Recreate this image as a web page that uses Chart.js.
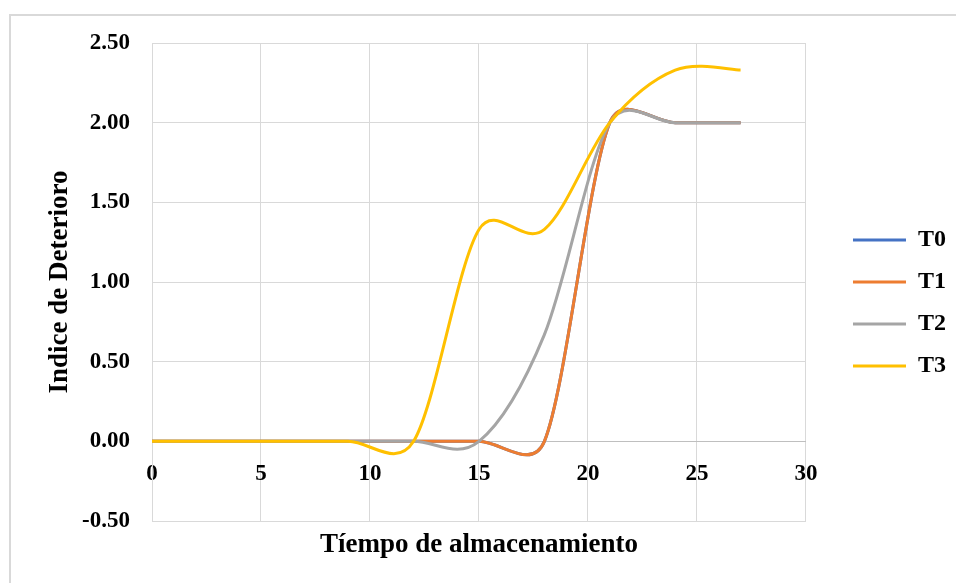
<!DOCTYPE html>
<html>
<head>
<meta charset="utf-8">
<script src="https://cdn.jsdelivr.net/npm/chart.js@4"></script>
<style>
  body { margin: 0; background: #fff; overflow: hidden; }
  #frame { position: absolute; left: 9px; top: 14px; width: 1000px; height: 650px; border: 2px solid #d9d9d9; box-sizing: border-box; }
  #chart { position: absolute; left: 0; top: 0; }
</style>
</head>
<body>
<div id="frame"></div>
<canvas id="chart" width="956" height="583"></canvas>
<script>
// dias de almacenamiento
const dias = [0, 3, 6, 9, 12, 15, 18, 21, 24, 27]

// indice de deterioro por tratamiento
const t0 = [0, 0, 0, 0, 0, 0, 0, 2.0, 2.0, 2.0]
const t1 = [0, 0, 0, 0, 0, 0, 0, 2.0, 2.0, 2.0]
const t2 = [0, 0, 0, 0, 0, 0, 0.67, 2.0, 2.0, 2.0]
const t3 = [0, 0, 0, 0, 0, 1.33, 1.33, 2.0, 2.33, 2.33]

const nombres = ['T0', 'T1', 'T2', 'T3']
const colores = ['#4472C4', '#ED7D31', '#A5A5A5', '#FFC000']
const series = [t0, t1, t2, t3]

const xTicks = [0, 5, 10, 15, 20, 25, 30]
const yTicks = [-0.5, 0, 0.5, 1.0, 1.5, 2.0, 2.5]

const fuente = '"Times New Roman", "Liberation Serif", serif'

// curva suavizada al estilo de Excel (brazos de control limitados a media distancia)
const dist = (a, b) => Math.hypot(b.x - a.x, b.y - a.y)
const suavizado = {
    id: 'suavizado',
    beforeDatasetsDraw(chart) {
        chart.data.datasets.forEach((ds, i) => {
            const meta = chart.getDatasetMeta(i)
            const line = meta.dataset
            if (!line) return
            line.updateControlPoints(chart.chartArea, meta.indexAxis)
            const pts = meta.data
            for (let k = 0; k < pts.length - 1; k++) {
                const p0 = pts[Math.max(k - 1, 0)]
                const p1 = pts[k]
                const p2 = pts[k + 1]
                const p3 = pts[Math.min(k + 2, pts.length - 1)]
                const d12 = dist(p1, p2), d02 = dist(p0, p2), d13 = dist(p1, p3)
                let f = 1 / 6, g = 1 / 6
                if (d02 / 6 >= d12 / 2) f = d12 / 2 / d02
                if (d13 / 6 >= d12 / 2) g = d12 / 2 / d13
                p1.cp2x = p1.x + f * (p2.x - p0.x)
                p1.cp2y = p1.y + f * (p2.y - p0.y)
                p2.cp1x = p2.x - g * (p3.x - p1.x)
                p2.cp1y = p2.y - g * (p3.y - p1.y)
            }
            line._path = undefined
        })
    }
}

const datasets = series.map((valores, i) => ({
    label: nombres[i],
    data: dias.map((d, j) => ({ x: d, y: valores[j] })),
    showLine: true,
    borderColor: colores[i],
    backgroundColor: colores[i],
    borderWidth: 3,
    pointRadius: 0,
    tension: 0.5,
    order: series.length - i
}))

// ejes vacios que solo reservan espacio
const espacio = (eje, pos, medida, tam) => ({
    axis: eje,
    type: 'linear',
    position: pos,
    display: true,
    min: 0,
    max: 1,
    ticks: { display: false },
    grid: { display: false },
    border: { display: false },
    afterFit: (axis) => { axis[medida] = tam }
})

new Chart(document.getElementById('chart').getContext('2d'), {
    type: 'scatter',
    data: { datasets: datasets },
    plugins: [suavizado],
    options: {
        responsive: false,
        animation: false,
        layout: {
            padding: { left: 44, right: 0, top: 23, bottom: 0 }
        },
        scales: {
            x: {
                type: 'linear',
                position: { y: 0 },
                min: xTicks[0],
                max: xTicks[xTicks.length - 1],
                afterBuildTicks: (axis) => { axis.ticks = xTicks.map(v => ({ value: v })) },
                ticks: {
                    padding: 19,
                    color: '#000',
                    font: { family: fuente, size: 23, weight: 'bold' }
                },
                grid: { color: '#d9d9d9', drawTicks: false },
                border: { color: '#bfbfbf', width: 1 }
            },
            arriba: espacio('x', 'top', 'height', 20),
            abajo: {
                ...espacio('x', 'bottom', 'height', 62),
                title: {
                    display: true,
                    text: 'Tíempo de almacenamiento',
                    color: '#000',
                    padding: { top: 0, bottom: 22 },
                    font: { family: fuente, size: 27, weight: 'bold' }
                }
            },
            y: {
                min: yTicks[0],
                max: yTicks[yTicks.length - 1],
                afterBuildTicks: (axis) => { axis.ticks = yTicks.map(v => ({ value: v })) },
                afterFit: (axis) => { axis.width = 108 },
                ticks: {
                    padding: 22,
                    color: '#000',
                    font: { family: fuente, size: 23, weight: 'bold' },
                    callback: (v) => v.toFixed(2)
                },
                grid: { color: '#d9d9d9', drawTicks: false },
                border: { color: '#d9d9d9' },
                title: {
                    display: true,
                    text: 'Indice de Deterioro',
                    color: '#000',
                    padding: 0,
                    font: { family: fuente, size: 27, weight: 'bold' }
                }
            },
            hueco: espacio('y', 'right', 'width', 29)
        },
        plugins: {
            legend: {
                position: 'right',
                labels: {
                    boxWidth: 53,
                    boxHeight: 3,
                    padding: 18,
                    color: '#000',
                    font: { family: fuente, size: 24, weight: 'bold' },
                    sort: (a, b) => a.datasetIndex - b.datasetIndex,
                    generateLabels: (chart) => Chart.defaults.plugins.legend.labels.generateLabels(chart)
                        .map(l => ({ ...l, lineWidth: 0, fillStyle: l.strokeStyle }))
                }
            },
            tooltip: { enabled: false }
        }
    }
})
</script>
</body>
</html>
